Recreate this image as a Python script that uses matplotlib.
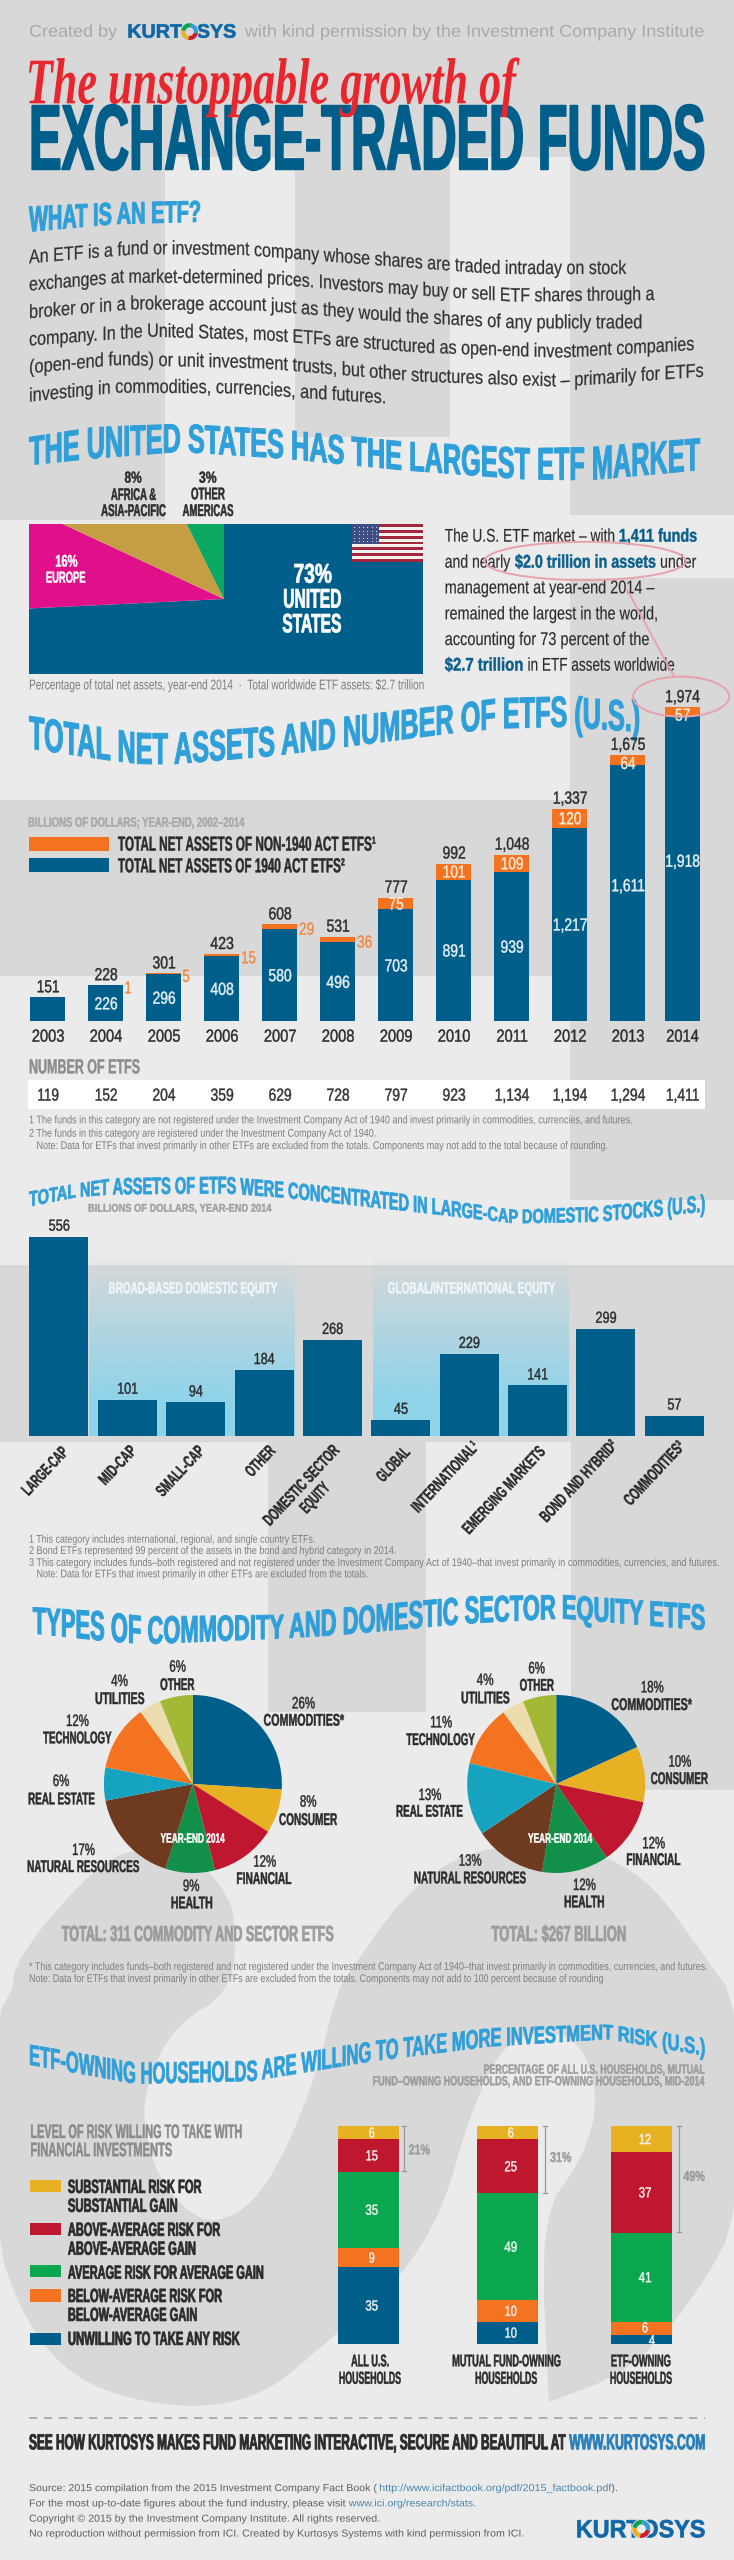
#!/usr/bin/env python
# -*- coding: utf-8 -*-
import numpy as np
import matplotlib
matplotlib.use("Agg")
import matplotlib.pyplot as plt
from matplotlib.font_manager import FontProperties
from matplotlib.patches import Rectangle, Ellipse, Polygon, Wedge
from matplotlib.patheffects import AbstractPathEffect
from matplotlib.path import Path
from matplotlib.textpath import TextPath
from matplotlib.transforms import Affine2D

# world market pie
market_names = ["UNITED STATES", "EUROPE", "AFRICA & ASIA-PACIFIC", "OTHER AMERICAS"]
market_share = [73, 16, 8, 3]

# total net assets by year
years = [2003, 2004, 2005, 2006, 2007, 2008, 2009, 2010, 2011, 2012, 2013, 2014]
act_1940 = [151, 226, 296, 408, 580, 496, 703, 891, 939, 1217, 1611, 1918]
non_1940 = [0, 1, 5, 15, 29, 36, 75, 101, 109, 120, 64, 57]
total_assets = [151, 228, 301, 423, 608, 531, 777, 992, 1048, 1337, 1675, 1974]
n_etfs = [119, 152, 204, 359, 629, 728, 797, 923, 1134, 1194, 1294, 1411]

# assets by category
cat_values = [556, 101, 94, 184, 268, 45, 229, 141, 299, 57]

# sector pies
sector_etfs = [26, 8, 12, 9, 17, 6, 12, 4, 6]
sector_assets = [18, 10, 12, 12, 13, 13, 11, 4, 6]

# household risk
risk_none = [35, 10, 4]
risk_below = [9, 10, 6]
risk_avg = [35, 49, 41]
risk_above = [15, 25, 37]
risk_subst = [6, 6, 12]
risk_sum = ["21%", "31%", "49%"]

BLUE = "#005f8a"
ORANGE = "#f47321"
SKY = "#2f9fd9"
DARK = "#2b2b2b"
GREY = "#9c9c9c"
NOTE = "#7d7d7d"
YELLOW = "#e8b023"
RED = "#bf1730"
GREEN = "#0aa750"
LIGHT = "#ebebeb"
MID = "#d8d8d8"
SECTOR_COLORS = [BLUE, YELLOW, RED, "#12904a", "#6e3a20", "#16a3bf", ORANGE, "#ecdcae", "#a3b834"]

W, H = 734, 2560
NARROW = ["Liberation Sans"]
SANS = ["Liberation Sans"]
SCRIPT = ["Liberation Serif"]

fig = plt.figure(figsize=(W / 100, H / 100), dpi=100, facecolor=LIGHT)
bg = fig.add_axes([0, 0, 1, 1], zorder=0)
ov = fig.add_axes([0, 0, 1, 1], zorder=5)
for a in (bg, ov):
    a.set_xlim(0, W)
    a.set_ylim(H, 0)
    a.axis("off")


class Box(AbstractPathEffect):
    # fits the glyphs of a string between two x values and a baseline/cap curve
    def __init__(self, x0, x1, bx, by, tx, ty, caph, angle=0, pivot=None, stroke=0):
        self.p = (x0, x1, bx, by, tx, ty, caph, angle, pivot, stroke)

    def draw_path(self, renderer, gc, tpath, affine, rgbFace=None):
        x0, x1, bx, by, tx, ty, caph, angle, pivot, stroke = self.p
        v = tpath.vertices
        lo, hi = v[:, 0].min(), v[:, 0].max()
        X = x0 + (v[:, 0] - lo) / (hi - lo) * (x1 - x0)
        B = H - np.interp(X, bx, by)
        T = H - np.interp(X, tx, ty)
        Y = B + v[:, 1] / caph * (T - B)
        xy = np.c_[X, Y]
        if angle:
            tr = Affine2D().rotate_deg_around(pivot[0], H - pivot[1], angle)
            xy = tr.transform(xy)
        gc0 = renderer.new_gc()
        gc0.copy_properties(gc)
        gc0.set_foreground(rgbFace)
        gc0.set_linewidth(stroke)
        renderer.draw_path(gc0, Path(xy, tpath.codes), Affine2D(), rgbFace)
        gc0.restore()


def fp(font, bold, italic=False):
    return FontProperties(family=font, weight="bold" if bold else "normal",
                          style="italic" if italic else "normal")


def raw_put(s, x0, x1, bx, by, tx, ty, color, font, bold, italic=False, angle=0, pivot=None, stroke=None, z=5):
    p = fp(font, bold, italic)
    w10 = TextPath((0, 0), s, size=10, prop=p).get_extents().width
    caph = TextPath((0, 0), "H", size=100, prop=p).vertices[:, 1].max()
    # TextPath size is in pixels here, font size in points at 100 dpi
    fs = 10 * (x1 - x0) / w10 * 0.72
    if stroke is None:
        stroke = 0.3 if font is NARROW else 0
    eff = Box(x0, x1, bx, by, tx, ty, caph, angle, pivot, stroke)
    if angle:
        t = ov.text(pivot[0], pivot[1], s, fontproperties=p, fontsize=fs, color=color, ha="center",
                    va="center", rotation=angle, parse_math=False, zorder=z)
    else:
        t = ov.text(x0, np.min(by), s, fontproperties=p, fontsize=fs, color=color, ha="left",
                    va="baseline", parse_math=False, zorder=z)
    t.set_path_effects([eff])
    return t


# zoom-crop coordinates used while reading the picture
ZO, YS = 0, 3.0
XS = 1568 / 734


def region(zo, ys=3.0):
    global ZO, YS
    ZO, YS = zo, ys


def px(x):
    return np.asarray(x, float) / XS


def py(y):
    return ZO + np.asarray(y, float) / YS


def put(s, x0, x1, base, top=None, h=None, color=DARK, font=NARROW, bold=True, italic=False, stroke=None):
    if np.ndim(base) == 0:
        base = [(x0, base), (x1, base)]
    base = np.array(base, float)
    if top is None:
        top = np.c_[base[:, 0], base[:, 1] - h]
    elif np.ndim(top) == 0:
        top = np.array([(x0, top), (x1, top)], float)
    else:
        top = np.array(top, float)
    raw_put(s, px(x0), px(x1), px(base[:, 0]), py(base[:, 1]), px(top[:, 0]), py(top[:, 1]),
            color, font, bold, italic, stroke=stroke)


def mid(s, cx, base, cap, color=DARK, font=NARROW, bold=False, sx=1.0):
    # cx, base, cap in real pixels: width follows the font, squeezed like the condensed original
    p = fp(font, bold)
    tp = TextPath((0, 0), "H", size=100, prop=p).vertices[:, 1].max()
    wid = TextPath((0, 0), s, size=100, prop=p).get_extents().width * cap / tp * sx * 0.82
    raw_put(s, cx - wid / 2, cx + wid / 2, [0, W], [base, base], [0, W], [base - cap, base - cap],
            color, font, bold)


def zmid(s, cx, base, top, color=DARK, font=NARROW, bold=False, sx=1.0):
    mid(s, float(px(cx)), float(py(base)), float(py(base) - py(top)), color, font, bold, sx)


def rot(s, x0, y1, x1, y0, t=11.5, angle=47, color=DARK):
    # bounding box of a slanted label in crop coordinates
    cx, cy = float(px((x0 + x1) / 2)), float(py((y0 + y1) / 2))
    bw, bh = float(px(x1 - x0)), (y1 - y0) / YS
    L = (bw + bh) / (np.cos(np.radians(angle)) + np.sin(np.radians(angle))) - t
    raw_put(s, cx - L / 2, cx + L / 2, [0, W], [cy + t / 2] * 2, [0, W], [cy - t / 2] * 2,
            color, NARROW, True, angle=angle, pivot=(cx, cy))


def px_axes(x0, y0, x1, y1):
    ax = fig.add_axes([x0 / W, 1 - y1 / H, (x1 - x0) / W, (y1 - y0) / H], zorder=2)
    ax.axis("off")
    return ax


def to_px(ax, x, y):
    d = ax.transData.transform((x, y))
    return d[0], H - d[1]


def smooth(pts, keep=(), n=2):
    pts = list(map(tuple, pts))
    for _ in range(n):
        out = []
        for i, p in enumerate(pts):
            q = pts[(i + 1) % len(pts)]
            if p in keep:
                out.append(p)
            else:
                out.append((0.75 * p[0] + 0.25 * q[0], 0.75 * p[1] + 0.25 * q[1]))
            if q not in keep:
                out.append((0.25 * p[0] + 0.75 * q[0], 0.25 * p[1] + 0.75 * q[1]))
        pts = out
    return pts


def logo(x0, x1, base, top, cx, cy, r):
    put("KURTOSYS", x0, x1, base, top, color="#0f67a8", font=SANS, stroke=0.5)
    cols = ["#c8202f", "#e8b023", "#10a050", "#2f9fd9"]
    ov.add_patch(Ellipse((px(cx), py(cy)), 2.2 * r, 2.2 * r, color=MID if base < 200 else LIGHT, lw=0, zorder=6))
    for k, c in enumerate(cols):
        ov.add_patch(Wedge((px(cx), py(cy)), r, 90 * k + 10, 90 * k + 100, width=r * 0.5, color=c, lw=0, zorder=7))


# ---- background blocks
for x0, y0, x1, y1 in [(0, 0, W, 157), (0, 157, 165, 520), (295, 157, 450, 437), (570, 157, W, 515),
                       (570, 578, W, 1200), (0, 800, 571, 976), (0, 1265, W, 1442), (268, 1442, 426, 1712),
                       (571, 1442, W, 1790)]:
    bg.add_patch(Rectangle((x0, y0), x1 - x0, y1 - y0, color=MID, lw=0))

blob = [(-5, 2017), (13, 1990), (14, 1967), (47, 1920), (94, 1870), (131, 1848), (190, 1852), (225, 1890),
        (236, 1920), (233, 1990), (173, 2027), (147, 2083), (143, 2123), (157, 2177), (193, 2217), (220, 2222),
        (253, 2203), (283, 2157), (317, 2073), (337, 1990), (356, 1963), (398, 1903), (445, 1863), (492, 1847),
        (562, 1843), (609, 1857), (655, 1887), (702, 1953), (740, 2005), (740, 2215), (700, 2290), (634, 2370),
        (549, 2402), (540, 2217), (584, 2157), (599, 2097), (580, 2040), (540, 2030), (500, 2047), (467, 2123),
        (444, 2207), (400, 2280), (317, 2350), (267, 2393), (200, 2409), (117, 2397), (60, 2367), (20, 2310),
        (-5, 2237)]
bg.add_patch(Polygon(smooth(blob, keep=[(549, 2402)]), color=MID, lw=0))

grad = np.zeros((200, 2, 4))
grad[:, :, :3] = matplotlib.colors.to_rgb("#8fd3ea")
grad[:, :, 3] = np.clip(np.linspace(0, 1.25, 200), 0, 1)[:, None]
for x0, x1 in [(89, 295), (373, 569)]:
    bg.imshow(grad, extent=(x0, x1, 1436, 1255), aspect="auto", interpolation="bilinear", zorder=3)
bg.set_xlim(0, W)
bg.set_ylim(H, 0)

# ---- header
region(0)
GR = "#a9a9a9"
put("Created by", 62, 250, 110, 75, color=GR, font=SANS, bold=False)
logo(272, 503, 113, 73, 405, 95, 8.5)
put("with kind permission by the Investment Company Institute", 523, 1503, 110, 75, color=GR, font=SANS, bold=False)
put("EXCHANGE-TRADED FUNDS", 62, 1503, 508, 317, color=BLUE, stroke=1.3)
put("The unstoppable growth of", 55, 1110, 310, 182, color="#e8262d", font=SCRIPT, italic=True)

put("WHAT IS AN ETF?", 62, 427, [(62, 695), (245, 672), (427, 665)], [(62, 620), (245, 608), (427, 603)], color=SKY, stroke=0.7)
para = [
    ("An ETF is a fund or investment company whose shares are traded intraday on stock", 62, 1338,
     [(62, 790), (300, 762), (520, 765), (800, 795), (1060, 822), (1338, 822)]),
    ("exchanges at market-determined prices. Investors may buy or sell ETF shares through a", 62, 1398,
     [(62, 872), (260, 848), (560, 850), (830, 880), (1100, 905), (1398, 900)]),
    ("broker or in a brokerage account just as they would the shares of any publicly traded", 62, 1370,
     [(62, 955), (280, 928), (560, 932), (850, 965), (1100, 985), (1370, 985)]),
    ("company. In the United States, most ETFs are structured as open-end investment companies", 62, 1482,
     [(62, 1037), (320, 1010), (560, 1020), (900, 1058), (1200, 1073), (1482, 1050)]),
    ("(open-end funds) or unit investment trusts, but other structures also exist – primarily for ETFs", 62, 1502,
     [(62, 1120), (250, 1095), (560, 1105), (900, 1145), (1200, 1160), (1502, 1130)]),
    ("investing in commodities, currencies, and futures.", 62, 822,
     [(62, 1205), (250, 1178), (500, 1180), (822, 1210)]),
]
for s, x0, x1, b in para:
    put(s, x0, x1, b, h=40, color="#333333", bold=False, stroke=0.15)

# ---- world market
region(420)
put("THE UNITED STATES HAS THE LARGEST ETF MARKET", 62, 1495,
    [(62, 135), (200, 115), (385, 95), (605, 115), (860, 150), (1125, 178), (1260, 180), (1495, 150)],
    [(62, 52), (200, 22), (385, 12), (605, 30), (860, 65), (1125, 85), (1260, 82), (1495, 55)], color=SKY, stroke=0.7)

ax = px_axes(29.5, 524, 423, 674)
ax.pie(market_share, colors=[BLUE, "#e0108a", "#c49d45", "#0aa860"], startangle=90, counterclock=False, radius=2.2,
       wedgeprops={"linewidth": 0, "clip_on": True})
ax.set_aspect("auto")
ax.set_xlim(-0.997, 1.02)
ax.set_ylim(-1, 1)

for i in range(13):
    c = "#a3283c" if i % 2 == 0 else "#f4f0ee"
    ov.add_patch(Rectangle((352, 524 + i * 38 / 13), 71, 38 / 13, color=c, lw=0))
ov.add_patch(Rectangle((352, 524), 27, 20, color="#3f4f86", lw=0))
for r_ in range(5):
    ov.plot(352 + 2.2 + np.arange(6) * 4.4, [527 + r_ * 3.6] * 6, ".", color="#e8e8f0", ms=1.6, mew=0)

put("8%", 266, 302, 188, 155)
put("AFRICA &", 237, 333, 240, 205)
put("ASIA-PACIFIC", 216, 354, 288, 253)
put("3%", 425, 462, 188, 155)
put("OTHER", 408, 480, 238, 203)
put("AMERICAS", 390, 498, 288, 253)
put("16%", 118, 165, 440, 405, color="white")
put("EUROPE", 98, 182, 488, 455, color="white")
put("73%", 627, 708, 488, 432, color="white", stroke=0.5)
put("UNITED", 605, 728, 563, 507, color="white", stroke=0.5)
put("STATES", 603, 728, 637, 582, color="white", stroke=0.5)

TEAL = "#0b5f8a"
put("The U.S. ETF market – with", 950, 1312, 365, 327, bold=False, stroke=0.1)
put("1,411 funds", 1322, 1488, 365, 327, color=TEAL)
put("and nearly", 950, 1090, 443, 405, bold=False, stroke=0.1)
put("$2.0 trillion in assets", 1100, 1400, 443, 405, color=TEAL)
put("under", 1410, 1487, 443, 405, bold=False, stroke=0.1)
put("management at year-end 2014 –", 950, 1398, 520, 482, bold=False, stroke=0.1)
put("remained the largest in the world,", 950, 1403, 598, 560, bold=False, stroke=0.1)
put("accounting for 73 percent of the", 950, 1386, 675, 637, bold=False, stroke=0.1)
put("$2.7 trillion", 950, 1116, 752, 714, color=TEAL)
put("in ETF assets worldwide", 1127, 1440, 752, 714, bold=False, stroke=0.1)
put("Percentage of total net assets, year-end 2014  ·  Total worldwide ETF assets: $2.7 trillion",
    62, 905, 808, 779, color=NOTE, bold=False, stroke=0)

PINK = "#e6a3ab"
ov.add_patch(Ellipse((px(1250), py(423)), px(430), 115 / 3, fill=False, ec=PINK, lw=1.4, zorder=7))
ov.add_patch(Ellipse((px(1455), py(830)), px(205), 120 / 3, fill=False, ec=PINK, lw=1.4, zorder=7))
ov.plot([px(1340), px(1440)], [py(510), py(770)], color=PINK, lw=1.4, zorder=7)

# ---- assets and number of ETFs
region(680)
put("TOTAL NET ASSETS AND NUMBER OF ETFS (U.S.)", 62, 1365,
    [(62, 205), (230, 240), (300, 252), (370, 252), (580, 228), (710, 205), (960, 160), (1065, 145), (1200, 140), (1365, 155)],
    [(62, 108), (230, 145), (300, 160), (370, 160), (580, 140), (710, 115), (960, 75), (1065, 55), (1200, 50), (1365, 65)],
    color=SKY, stroke=0.7)

x_year = np.arange(12, dtype=float)
x_year[-1] -= 0.06
ax = px_axes(18.8, 707.3, 714.8, 1021.3)
ax.set_xlim(-0.5, 11.5)
ax.set_ylim(0, 1974)
ax.bar(x_year, act_1940, width=0.6, color=BLUE)
ax.bar(x_year, non_1940, bottom=act_1940, width=0.6, color=ORANGE)


def fmt(v):
    return f"{v:,}"


cap = 12
for i, x in enumerate(x_year):
    cx, ytop = to_px(ax, x, act_1940[i] + non_1940[i])
    mid(fmt(total_assets[i]), cx, ytop - 5, cap)
    if i > 0:
        ymid = to_px(ax, x, act_1940[i] * 0.5)[1]
        if act_1940[i] > 1500:
            ymid -= 8
        mid(fmt(act_1940[i]), cx, ymid + cap / 2, cap, color="#e8f1f5")
    if non_1940[i] >= 57:
        ymid = to_px(ax, x, act_1940[i] + non_1940[i] / 2)[1]
        mid(str(non_1940[i]), cx, ymid + cap / 2 + (3 if non_1940[i] < 70 else 0), cap, color="#f6ead9")
    elif non_1940[i] > 0:
        ymid = to_px(ax, x, act_1940[i] + non_1940[i] / 2)[1]
        mid(str(non_1940[i]), cx + 17.5 + 4.5 * len(str(non_1940[i])), ymid + cap / 2 + 2, cap, color="#ef8a45")
    mid(str(years[i]), cx, 680 + 1085 / 3, 12, sx=1.05)
    mid(fmt(n_etfs[i]), cx, 680 + 1262 / 3, 12, color="#333333")

put("BILLIONS OF DOLLARS; YEAR-END, 2002–2014", 60, 522, 440, 412, color="#a8a8a8")
ov.add_patch(Rectangle((px(62), py(472)), px(170), 40 / 3, color=ORANGE, lw=0))
ov.add_patch(Rectangle((px(62), py(535)), px(170), 42 / 3, color=BLUE, lw=0))
put("TOTAL NET ASSETS OF NON-1940 ACT ETFS¹", 252, 802, 512, 470)
put("TOTAL NET ASSETS OF 1940 ACT ETFS²", 252, 736, 577, 535)
put("NUMBER OF ETFS", 62, 298, 1180, 1138, color="#8c8c8c")
bg.add_patch(Rectangle((px(60), py(1200)), px(1446), 86 / 3, color="white", lw=0, zorder=4))
put("1 The funds in this category are not registered under the Investment Company Act of 1940 and invest primarily in commodities, currencies, and futures.",
    62, 1350, 1330, 1307, color=NOTE, bold=False, stroke=0)
put("2 The funds in this category are registered under the Investment Company Act of 1940.", 62, 802, 1370, 1347, color=NOTE, bold=False, stroke=0)
put("Note: Data for ETFs that invest primarily in other ETFs are excluded from the totals. Components may not add to the total because of rounding.",
    78, 1297, 1407, 1384, color=NOTE, bold=False, stroke=0)

# ---- assets by category
region(1160)
put("TOTAL NET ASSETS OF ETFS WERE CONCENTRATED IN LARGE-CAP DOMESTIC STOCKS (U.S.)", 62, 1505,
    [(62, 140), (160, 112), (240, 103), (480, 100), (600, 112), (850, 150), (1100, 190), (1280, 185), (1505, 155)],
    [(62, 95), (160, 72), (240, 55), (480, 50), (600, 65), (850, 100), (1100, 150), (1280, 140), (1505, 105)],
    color=SKY, stroke=0.5)
put("BILLIONS OF DOLLARS, YEAR-END 2014", 188, 580, 155, 132, color="#a0a0a0")

ax = px_axes(px(63 + 63 - 73), py(230), px(63 + 63 + 9.5 * 146), py(828))
ax.set_xlim(-0.5, 9.5)
ax.set_ylim(0, 556)
x_cat = np.arange(10)
ax.bar(x_cat, cat_values, width=0.863, color=BLUE)
for x, v in zip(x_cat, cat_values):
    cx, ytop = to_px(ax, x, v)
    mid(str(v), cx, ytop - 6, 11)
put("BROAD-BASED DOMESTIC EQUITY", 232, 592, 400, 367, color="#f3f6f8")
put("GLOBAL/INTERNATIONAL EQUITY", 828, 1186, 400, 367, color="#f3f6f8")

rot("LARGE-CAP", 40, 1005, 150, 860)
rot("MID-CAP", 205, 975, 295, 855)
rot("SMALL-CAP", 328, 1010, 440, 855)
rot("OTHER", 518, 950, 592, 855)
rot("DOMESTIC SECTOR", 555, 1095, 730, 855)
rot("EQUITY", 635, 1060, 708, 965)
rot("GLOBAL", 798, 965, 880, 860)
rot("INTERNATIONAL¹", 875, 1060, 1025, 840)
rot("EMERGING MARKETS", 980, 1120, 1170, 860)
rot("BOND AND HYBRID²", 1150, 1090, 1320, 835)
rot("COMMODITIES³", 1328, 1038, 1465, 840)

put("1 This category includes international, regional, and single country ETFs.", 62, 672, 1148, 1125, color=NOTE, bold=False, stroke=0)
put("2 Bond ETFs represented 99 percent of the assets in the bond and hybrid category in 2014.", 62, 845, 1182, 1159, color=NOTE, bold=False, stroke=0)
put("3 This category includes funds–both registered and not registered under the Investment Company Act of 1940–that invest primarily in commodities, currencies, and futures.",
    62, 1535, 1218, 1195, color=NOTE, bold=False, stroke=0)
put("Note: Data for ETFs that invest primarily in other ETFs are excluded from the totals.", 78, 785, 1252, 1229, color=NOTE, bold=False, stroke=0)

# ---- sector pies
region(1570)
put("TYPES OF COMMODITY AND DOMESTIC SECTOR EQUITY ETFS", 70, 1505,
    [(70, 190), (220, 212), (310, 222), (600, 205), (720, 195), (1000, 160), (1200, 145), (1505, 180)],
    [(70, 112), (220, 125), (310, 140), (600, 135), (720, 115), (1000, 80), (1200, 75), (1505, 105)],
    color=SKY, stroke=0.7)
for cx, vals in [(192.9, sector_etfs), (556.2, sector_assets)]:
    ax = px_axes(cx - 89, 1784 - 89, cx + 89, 1784 + 89)
    ax.pie(vals, colors=SECTOR_COLORS, startangle=90, counterclock=False, radius=1, wedgeprops={"linewidth": 0})
    ax.set_aspect("auto")
    ax.set_xlim(-1, 1)
    ax.set_ylim(-1, 1)

left_labels = [
    ("26%", 648, 415, "COMMODITIES*", 563, 735, 467), ("8%", 658, 710, "CONSUMER", 596, 720, 765),
    ("12%", 565, 890, "FINANCIAL", 505, 622, 942), ("9%", 408, 963, "HEALTH", 365, 453, 1015),
    ("17%", 178, 855, "NATURAL RESOURCES", 58, 297, 906), ("6%", 130, 648, "REAL ESTATE", 60, 202, 703),
    ("12%", 165, 468, "TECHNOLOGY", 92, 238, 520), ("4%", 255, 348, "UTILITIES", 203, 308, 402),
    ("6%", 379, 305, "OTHER", 342, 415, 360)]
right_labels = [
    ("18%", 1393, 367, "COMMODITIES*", 1306, 1478, 420), ("10%", 1452, 590, "CONSUMER", 1390, 1512, 642),
    ("12%", 1396, 835, "FINANCIAL", 1338, 1453, 885), ("12%", 1248, 960, "HEALTH", 1205, 1290, 1012),
    ("13%", 1004, 887, "NATURAL RESOURCES", 884, 1123, 940), ("13%", 918, 690, "REAL ESTATE", 846, 988, 740),
    ("11%", 942, 472, "TECHNOLOGY", 868, 1014, 525), ("4%", 1036, 345, "UTILITIES", 985, 1088, 400),
    ("6%", 1146, 310, "OTHER", 1110, 1183, 362)]
for pct, pc, pb, name, n0, n1, nb in left_labels + right_labels:
    zmid(pct, pc, pb, pb - 34, sx=0.88)
    put(name, n0, n1, nb, nb - 35, font=NARROW)
put("YEAR-END 2014", 343, 480, 818, 790, color="white")
put("YEAR-END 2014", 1128, 1265, 818, 790, color="white")
put("TOTAL: 311 COMMODITY AND SECTOR ETFS", 132, 712, 1113, 1068, color=GREY, stroke=0.5)
put("TOTAL: $267 BILLION", 1050, 1336, 1113, 1068, color=GREY, stroke=0.5)
put("* This category includes funds–both registered and not registered under the Investment Company Act of 1940–that invest primarily in commodities, currencies, and futures.",
    62, 1510, 1200, 1177, color=NOTE, bold=False, stroke=0)
put("Note: Data for ETFs that invest primarily in other ETFs are excluded from the totals. Components may not add to 100 percent because of rounding",
    62, 1288, 1236, 1213, color=NOTE, bold=False, stroke=0)

# ---- household risk
region(1990, 2.75)
put("ETF-OWNING HOUSEHOLDS ARE WILLING TO TAKE MORE INVESTMENT RISK (U.S.)", 62, 1505,
    [(62, 205), (290, 258), (540, 250), (800, 195), (1050, 155), (1300, 135), (1505, 180)],
    [(62, 150), (290, 200), (540, 195), (800, 140), (1050, 105), (1300, 95), (1505, 135)], color=SKY, stroke=0.5)
put("PERCENTAGE OF ALL U.S. HOUSEHOLDS, MUTUAL", 1033, 1505, 230, 205, color=GREY)
put("FUND–OWNING HOUSEHOLDS, AND ETF-OWNING HOUSEHOLDS, MID-2014", 796, 1505, 262, 237, color=GREY)
put("LEVEL OF RISK WILLING TO TAKE WITH", 65, 516, 407, 370, color="#8a8a8a")
put("FINANCIAL INVESTMENTS", 65, 367, 457, 420, color="#8a8a8a")

for y0, c in [(522, YELLOW), (641, RED), (756, GREEN), (823, ORANGE), (942, BLUE)]:
    ov.add_patch(Rectangle((px(65), py(y0)), px(65), 34 / 2.75, color=c, lw=0))
legend_lines = [("SUBSTANTIAL RISK FOR", 430, 558), ("SUBSTANTIAL GAIN", 378, 610), ("ABOVE-AVERAGE RISK FOR", 470, 676),
                ("ABOVE-AVERAGE GAIN", 417, 728), ("AVERAGE RISK FOR AVERAGE GAIN", 562, 794),
                ("BELOW-AVERAGE RISK FOR", 474, 858), ("BELOW-AVERAGE GAIN", 420, 910),
                ("UNWILLING TO TAKE ANY RISK", 512, 976)]
for s, x1, b in legend_lines:
    put(s, 145, x1, b, b - 36, stroke=0.5)

x_house = np.array([0, 1, 1.966])
ax = px_axes(299, 2126, 716, 2343.5)
ax.set_xlim(-0.5, 2.5)
ax.set_ylim(0, 100)
bottom = np.zeros(3)
stack = [(risk_none, BLUE), (risk_below, ORANGE), (risk_avg, GREEN), (risk_above, RED), (risk_subst, YELLOW)]
for vals, c in stack:
    ax.bar(x_house, vals, bottom=bottom, width=61 / 139, color=c)
    for i, v in enumerate(vals):
        cx, yy = to_px(ax, x_house[i], bottom[i] + v / 2)
        dx = 3
        if i == 2 and v == 4:
            dx = 10
            yy += 1
        if i == 2 and v == 6:
            yy -= 1
        mid(str(v), cx + dx, yy + 5, 10, color="#f4f6f4")
    bottom = bottom + np.array(vals)

tick_tops = [(864, 499, 873, 918, 452), (1165, 559, 1175, 1220, 473), (1451, 666, 1460, 1505, 525)]
for (x, yb, t0, t1, tb), lab in zip(tick_tops, risk_sum):
    ov.plot([px(x)] * 2, [py(374), py(yb)], color="#999999", lw=0.9)
    for yy in (374, yb):
        ov.plot([px(x) - 2, px(x) + 2], [py(yy)] * 2, color="#999999", lw=0.9)
    put(lab, t0, t1, tb, tb - 27, color=GREY)

put("ALL U.S.", 750, 830, 1035, 1003)
put("HOUSEHOLDS", 724, 856, 1083, 1050)
put("MUTUAL FUND-OWNING", 966, 1197, 1035, 1003)
put("HOUSEHOLDS", 1015, 1147, 1083, 1050)
put("ETF-OWNING", 1305, 1432, 1035, 1003)
put("HOUSEHOLDS", 1303, 1435, 1083, 1050)

ov.plot([px(62), px(1505)], [py(1178)] * 2, color="#a3a3a3", lw=1.2, dashes=(5, 4))
put("SEE HOW KURTOSYS MAKES FUND MARKETING INTERACTIVE, SECURE AND BEAUTIFUL AT", 62, 1208, 1263, 1222, stroke=0.6)
put("WWW.KURTOSYS.COM", 1216, 1505, 1263, 1222, color="#2a7fb8", stroke=0.6)

SRC = "#5f5f5f"
LINK = "#4a86ad"
put("Source: 2015 compilation from the 2015 Investment Company Fact Book (", 62, 805, 1378, 1359, color=SRC, font=SANS, bold=False)
put("http://www.icifactbook.org/pdf/2015_factbook.pdf", 810, 1306, 1378, 1359, color=LINK, font=SANS, bold=False)
put(").", 1306, 1318, 1378, 1359, color=SRC, font=SANS, bold=False)
put("For the most up-to-date figures about the fund industry, please visit", 62, 738, 1420, 1401, color=SRC, font=SANS, bold=False)
put("www.ici.org/research/stats.", 745, 1015, 1420, 1401, color=LINK, font=SANS, bold=False)
put("Copyright © 2015 by the Investment Company Institute. All rights reserved.", 62, 810, 1462, 1443, color=SRC, font=SANS, bold=False)
put("No reproduction without permission from ICI. Created by Kurtosys Systems with kind permission from ICI.", 62, 1118, 1503, 1484, color=SRC, font=SANS, bold=False)
logo(1230, 1505, 1505, 1458, 1370, 1482, 9)

fig.savefig("out.png", dpi=100, facecolor=LIGHT)
